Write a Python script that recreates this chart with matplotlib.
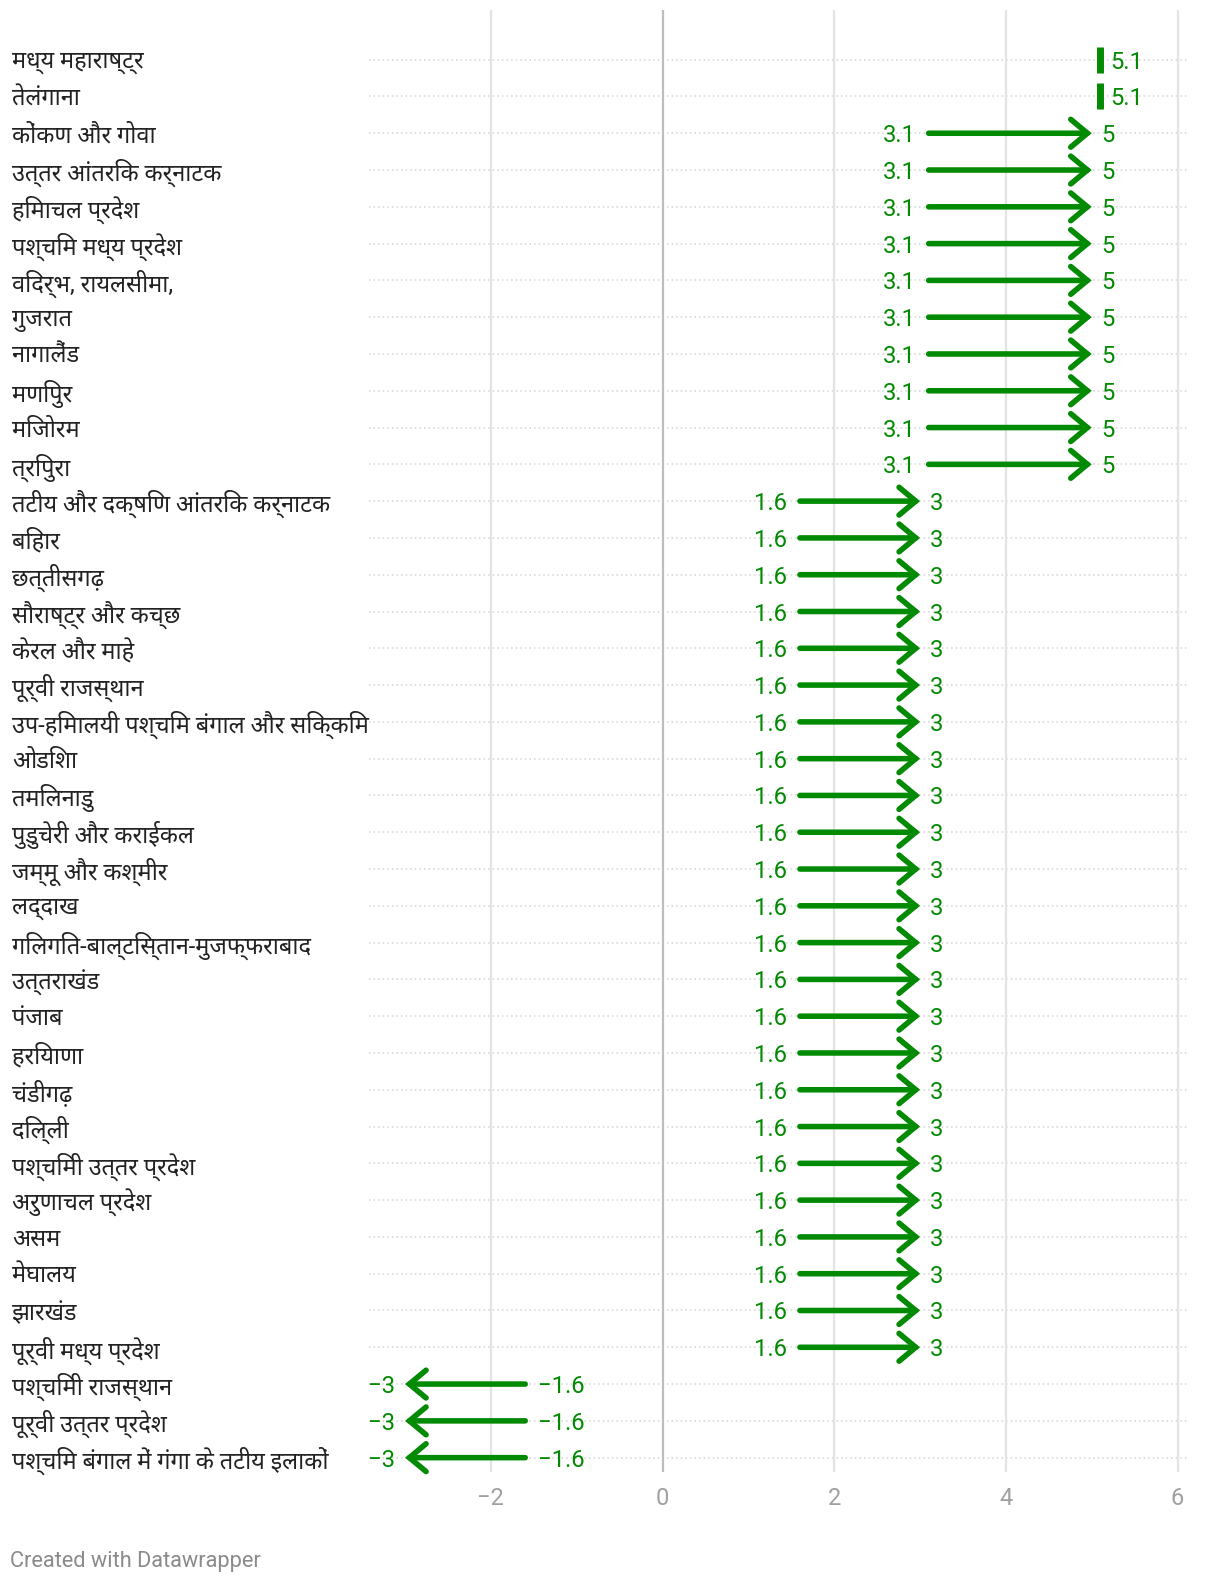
import matplotlib
matplotlib.use("Agg")
import matplotlib.pyplot as plt

plt.rcParams['font.family'] = ['Roboto', 'Noto Sans Devanagari', 'Hind', 'DejaVu Sans']

regions = [
    "मध्य महाराष्ट्र", "तेलंगाना", "कोंकण और गोवा", "उत्तर आंतरिक कर्नाटक",
    "हिमाचल प्रदेश", "पश्चिम मध्य प्रदेश", "विदर्भ, रायलसीमा,", "गुजरात",
    "नागालैंड", "मणिपुर", "मिजोरम", "त्रिपुरा",
    "तटीय और दक्षिण आंतरिक कर्नाटक", "बिहार", "छत्तीसगढ़", "सौराष्ट्र और कच्छ",
    "केरल और माहे", "पूर्वी राजस्थान", "उप-हिमालयी पश्चिम बंगाल और सिक्किम", "ओडिशा",
    "तमिलनाडु", "पुडुचेरी और कराईकल", "जम्मू और कश्मीर", "लद्दाख",
    "गिलगित-बाल्टिस्तान-मुजफ्फराबाद", "उत्तराखंड", "पंजाब", "हरियाणा",
    "चंडीगढ़", "दिल्ली", "पश्चिमी उत्तर प्रदेश", "अरुणाचल प्रदेश",
    "असम", "मेघालय", "झारखंड", "पूर्वी मध्य प्रदेश",
    "पश्चिमी राजस्थान", "पूर्वी उत्तर प्रदेश", "पश्चिम बंगाल में गंगा के तटीय इलाकों",
]
start = [5.1, 5.1] + [3.1] * 10 + [1.6] * 24 + [-1.6] * 3
end = [5.1, 5.1] + [5] * 10 + [3] * 24 + [-3] * 3
xticks = [-2, 0, 2, 4, 6]

green = "#038a03"

def fmt(v):
    s = ("%g" % v)
    return s.replace("-", "\u2212")

fig = plt.figure(figsize=(12.2, 15.86), dpi=100)
ax = fig.add_axes([369 / 1220, 1 - 1472 / 1586, (1189 - 369) / 1220, (1472 - 10) / 1586])

n = len(regions)
ax.set_xlim(-3.42, 6.133)
ax.set_ylim(n - 1 + 0.39, -1.35)

# grid
ax.set_xticks(xticks)
ax.set_xticklabels([fmt(t) for t in xticks], color="#a0a0a0", fontsize=17)
for t in xticks:
    ax.axvline(t, color="#bdbdbd" if t == 0 else "#e3e3e3", lw=1.6, zorder=1)
ax.set_yticks(range(n))
ax.set_yticklabels(regions, fontsize=17, color="#222222")
for lbl in ax.get_yticklabels():
    lbl.set_horizontalalignment("left")
ax.tick_params(axis="y", length=0, pad=257)
ax.tick_params(axis="x", length=0, pad=11)
for i in range(n):
    ax.axhline(i, color="#d4d4d4", lw=1.1, linestyle=(0, (1, 2)), zorder=0.5)
for s in ax.spines.values():
    s.set_visible(False)

vfs = 17.2
for i, (a, b) in enumerate(zip(start, end)):
    if a == b:
        ax.plot([a], [i], marker="|", markersize=19, mew=5, color=green, zorder=3)
        ax.annotate(fmt(b), (a, i), xytext=(7, 0), textcoords="offset points",
                    ha="left", va="center_baseline", color=green, fontsize=vfs)
        continue
    ax.annotate("", xy=(b, i), xytext=(a, i),
                arrowprops=dict(arrowstyle="->,head_length=1.2,head_width=1.0",
                                lw=4, color=green, shrinkA=0, shrinkB=0,
                                capstyle="round", joinstyle="miter",
                                mutation_scale=10), zorder=3)
    d = 1 if b > a else -1
    ax.annotate(fmt(a), (a, i), xytext=(-9 * d, 0), textcoords="offset points",
                ha="right" if d > 0 else "left", va="center_baseline", color=green, fontsize=vfs)
    ax.annotate(fmt(b), (b, i), xytext=(7 * d, 0), textcoords="offset points",
                ha="left" if d > 0 else "right", va="center_baseline", color=green, fontsize=vfs)

fig.text(10 / 1220, 1 - 1561 / 1586, "Created with Datawrapper", color="#8a8a8a",
         fontsize=15.7, ha="left", va="center")

fig.savefig("out.png")
